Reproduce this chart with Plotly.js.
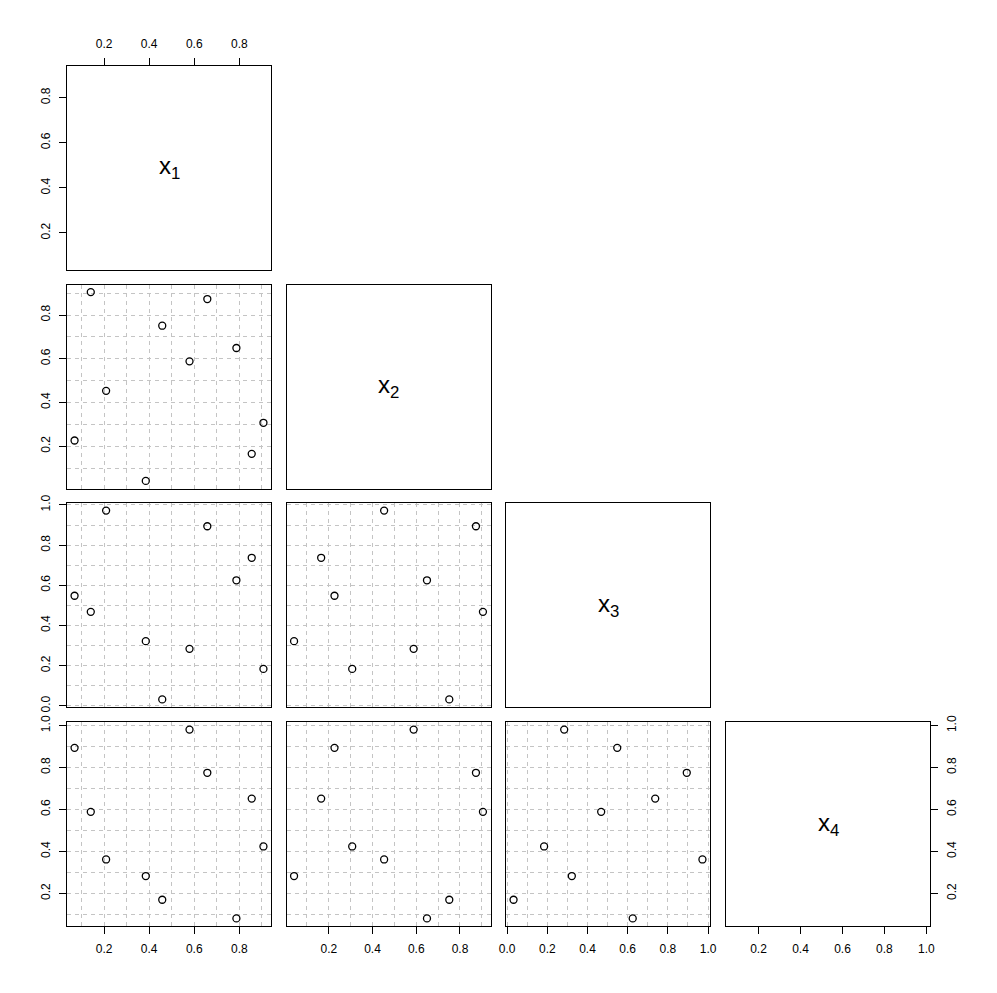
<!DOCTYPE html>
<html>
<head>
<meta charset="utf-8">
<script src="https://cdn.plot.ly/plotly-3.0.1.min.js"></script>
<style>html,body{margin:0;padding:0;background:#fff;}#chart{width:997px;height:993px;}</style>
</head>
<body>
<div id="chart"></div>
<script>
// Data (10 observations of 4 variables)
const x1 = [0.069, 0.141, 0.209, 0.385, 0.458, 0.579, 0.658, 0.787, 0.855, 0.907];
const x2 = [0.226, 0.905, 0.453, 0.041, 0.751, 0.588, 0.873, 0.649, 0.165, 0.307];
const x3 = [0.548, 0.468, 0.972, 0.322, 0.032, 0.284, 0.894, 0.625, 0.737, 0.184];
const x4 = [0.894, 0.589, 0.362, 0.283, 0.170, 0.981, 0.775, 0.081, 0.652, 0.424];
const varNames = ["x<sub>1</sub>", "x<sub>2</sub>", "x<sub>3</sub>", "x<sub>4</sub>"];

const vars = [x1, x2, x3, x4];
const W = 997, H = 993;
const colLeft = [67, 286.5, 506, 726];
const rowTop = [66, 284.5, 503, 722];
const S = 204;
const FONT = "Liberation Sans, Arial, Helvetica, sans-serif";
const GRIDC = "#c4c4c4";

function extRange(v) {
  const mn = Math.min(...v), mx = Math.max(...v), d = mx - mn;
  return [mn - 0.04 * d, mx + 0.04 * d];
}
const ranges = vars.map(extRange);

const data = [];
const layout = {
  width: W, height: H,
  margin: {l: 0, r: 0, t: 0, b: 0},
  paper_bgcolor: "#fff", plot_bgcolor: "#fff",
  showlegend: false,
  font: {family: FONT, size: 12, color: "#000"},
  annotations: []
};

let n = 0;
for (let r = 0; r < 4; r++) {
  for (let c = 0; c <= r; c++) {
    n++;
    const xa = "xaxis" + (n === 1 ? "" : n), ya = "yaxis" + (n === 1 ? "" : n);
    const xs = "x" + (n === 1 ? "" : n), ys = "y" + (n === 1 ? "" : n);
    const diag = r === c;
    const showX = (r === 3) || (r === 0 && c === 0);
    const showY = (c === 0) || (r === 3 && c === 3);
    const base = {
      showline: true, mirror: true, linecolor: "#000", linewidth: 1,
      zeroline: false, dtick: 0.2, tick0: 0, tickformat: ".1f",
      ticklen: 7, tickwidth: 1, tickcolor: "#000",
      tickfont: {family: FONT, size: 12, color: "#000"},
      showgrid: !diag, gridcolor: GRIDC, gridwidth: 1, griddash: "4px,4px",
      minor: {dtick: 0.1, tick0: 0, showgrid: !diag, gridcolor: GRIDC, gridwidth: 1, griddash: "4px,4px", ticks: ""},
      fixedrange: true, layer: "above traces"
    };
    layout[xa] = Object.assign({}, base, {
      domain: [colLeft[c] / W, (colLeft[c] + S) / W],
      range: ranges[c], anchor: ys,
      side: (r === 0 && c === 0) ? "top" : "bottom",
      ticks: showX ? "outside" : "", showticklabels: showX,
      ticklabelstandoff: 5
    });
    layout[ya] = Object.assign({}, base, {
      domain: [1 - (rowTop[r] + S) / H, 1 - rowTop[r] / H],
      range: ranges[r], anchor: xs,
      side: (r === 3 && c === 3) ? "right" : "left",
      ticks: showY ? "outside" : "", showticklabels: showY,
      tickangle: -90, ticklabelstandoff: 4
    });
    if (diag) {
      layout.annotations.push({
        xref: xs + " domain", yref: ys + " domain", x: 0.5, y: 0.5,
        xanchor: "center", yanchor: "middle", showarrow: false,
        text: varNames[r], font: {family: FONT, size: 24, color: "#000"}
      });
      data.push({x: [], y: [], xaxis: xs, yaxis: ys, type: "scatter", mode: "markers"});
    } else {
      data.push({
        x: vars[c], y: vars[r], xaxis: xs, yaxis: ys,
        type: "scatter", mode: "markers", cliponaxis: false,
        marker: {symbol: "circle-open", size: 7, color: "#000", line: {width: 1.3, color: "#000"}},
        hoverinfo: "skip"
      });
    }
  }
}

Plotly.newPlot("chart", data, layout, {staticPlot: true, displayModeBar: false});
</script>
</body>
</html>
